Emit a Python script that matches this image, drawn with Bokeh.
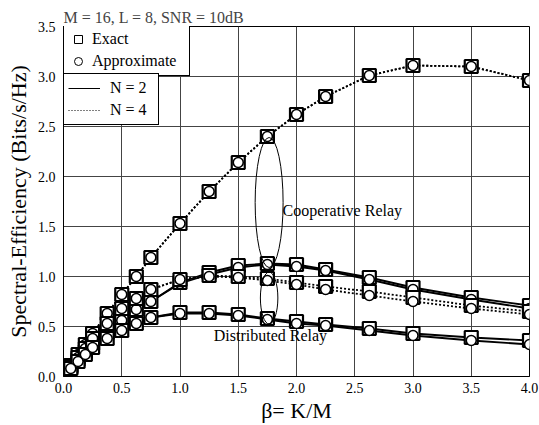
from bokeh.plotting import figure
from bokeh.models import Range1d, FixedTicker, NumeralTickFormatter, Legend, LegendItem
from bokeh.core.properties import value
from bokeh.embed import file_html
from bokeh.resources import INLINE

FONT = "Liberation Serif"

# beta = K/M, M = 16
beta = [1/16, 2/16, 3/16, 4/16, 6/16, 8/16, 10/16, 12/16, 1.0, 1.25, 1.5, 1.75,
        2.0, 2.25, 2.625, 3.0, 3.5, 4.0]

coop_n4_exact = [0.11, 0.22, 0.32, 0.43, 0.63, 0.82, 1.00, 1.19, 1.53, 1.85, 2.14, 2.40,
                 2.62, 2.80, 3.01, 3.11, 3.10, 2.96]
coop_n4_approx = [0.11, 0.22, 0.32, 0.43, 0.63, 0.82, 1.00, 1.19, 1.53, 1.85, 2.14, 2.40,
                  2.62, 2.80, 3.01, 3.11, 3.10, 2.96]

coop_n2_exact = [0.09, 0.17, 0.25, 0.33, 0.44, 0.56, 0.67, 0.75, 0.94, 1.04, 1.11, 1.13,
                 1.12, 1.07, 0.99, 0.89, 0.79, 0.71]
coop_n2_approx = [0.09, 0.17, 0.25, 0.33, 0.44, 0.56, 0.67, 0.75, 0.93, 1.02, 1.09, 1.12,
                  1.10, 1.06, 0.97, 0.87, 0.77, 0.68]

dist_n4_exact = [0.10, 0.19, 0.28, 0.38, 0.53, 0.68, 0.78, 0.87, 0.97, 1.01, 1.00, 0.98,
                 0.94, 0.90, 0.85, 0.79, 0.71, 0.65]
dist_n4_approx = [0.10, 0.19, 0.28, 0.38, 0.53, 0.68, 0.78, 0.87, 0.97, 1.00, 0.99, 0.96,
                  0.92, 0.87, 0.81, 0.75, 0.68, 0.62]

dist_n2_exact = [0.08, 0.15, 0.22, 0.29, 0.38, 0.46, 0.53, 0.59, 0.64, 0.64, 0.62, 0.58,
                 0.55, 0.52, 0.48, 0.43, 0.39, 0.36]
dist_n2_approx = [0.08, 0.15, 0.22, 0.29, 0.38, 0.46, 0.53, 0.59, 0.63, 0.63, 0.61, 0.57,
                  0.53, 0.51, 0.46, 0.41, 0.36, 0.32]

x_ticks = [0.0, 0.5, 1.0, 1.5, 2.0, 2.5, 3.0, 3.5, 4.0]
y_ticks = [0.0, 0.5, 1.0, 1.5, 2.0, 2.5, 3.0, 3.5]

p = figure(width=539, height=425, output_backend="svg", toolbar_location=None,
           x_range=Range1d(0, 4), y_range=Range1d(0, 3.5),
           min_border_left=63, min_border_right=10, min_border_top=26, min_border_bottom=49)

p.title.text = "M = 16, L = 8, SNR = 10dB"
p.title.text_font = FONT
p.title.text_font_size = "16px"
p.title.text_font_style = "normal"
p.title.align = "left"
p.title.offset = 0
p.title.standoff = 2

p.outline_line_color = "black"
p.outline_line_width = 1
p.background_fill_color = "white"
p.border_fill_color = "white"

p.axis.major_label_text_font = FONT
p.axis.major_label_text_font_size = "14px"
p.axis.major_label_text_color = "black"
p.axis.axis_label_text_font = FONT
p.axis.axis_label_text_font_size = "22px"
p.axis.axis_label_text_font_style = "normal"
p.axis.axis_label_text_color = "black"
p.axis.major_tick_in = 0
p.axis.major_tick_out = 0
p.axis.minor_tick_in = 0
p.axis.minor_tick_out = 0
p.axis.axis_line_color = "black"
p.xaxis.formatter = NumeralTickFormatter(format="0.0")
p.yaxis.formatter = NumeralTickFormatter(format="0.0")

p.xaxis.ticker = FixedTicker(ticks=x_ticks)
p.yaxis.ticker = FixedTicker(ticks=y_ticks)
p.xaxis.axis_label = "β= K/M"
p.yaxis.axis_label = "Spectral-Efficiency (Bits/s/Hz)"
p.xaxis.major_label_standoff = 6
p.yaxis.major_label_standoff = 8
p.xaxis.axis_label_standoff = 2
p.yaxis.axis_label_standoff = 4

p.grid.grid_line_color = "#444444"
p.grid.grid_line_width = 1
p.xgrid.ticker = FixedTicker(ticks=x_ticks)
p.ygrid.ticker = FixedTicker(ticks=y_ticks)

series = [
    (coop_n4_exact, coop_n4_approx, "dotted"),
    (coop_n2_exact, coop_n2_approx, "solid"),
    (dist_n4_exact, dist_n4_approx, "dotted"),
    (dist_n2_exact, dist_n2_approx, "solid"),
]

for ex, ap, dash in series:
    dsh = "2 2" if dash == "dotted" else "solid"
    p.line(beta, ex, line_color="black", line_width=1.8, line_dash=dsh)
    p.line(beta, ap, line_color="black", line_width=1.8, line_dash=dsh)

for ex, ap, dash in series:
    p.scatter(beta, ex, marker="square", size=13, line_color="black", line_width=2.2,
              fill_color="white")
    p.scatter(beta, ap, marker="circle", size=10, line_color="black", line_width=1.6,
              fill_color="white")

# ellipses marking the groups
p.ellipse(x=[1.765], y=[1.74], width=[0.24], height=[1.30], fill_color=None,
          line_color="black", line_width=1)
p.ellipse(x=[1.765], y=[0.785], width=[0.15], height=[0.52], fill_color=None,
          line_color="black", line_width=1)

p.text(x=[1.88], y=[1.66], text=["Cooperative Relay"], text_font=value(FONT),
       text_font_size="16px", text_baseline="middle", text_align="left", text_color="black")
p.text(x=[1.29], y=[0.41], text=["Distributed Relay"], text_font=value(FONT),
       text_font_size="16px", text_baseline="middle", text_align="left", text_color="black")

# legend helpers (single point placed outside the visible range)
sq = p.scatter([-10], [-10], marker="square", size=12, line_color="black", line_width=1, fill_color="white")
ci = p.scatter([-10], [-10], marker="circle", size=11, line_color="black", line_width=1, fill_color="white")
l2 = p.line([-10, -9], [-10, -10], line_color="black", line_width=1)
l4 = p.line([-10, -9], [-10, -10], line_color="black", line_width=1, line_dash="1 2")

def style(leg, gw, standoff, lw):
    leg.label_text_font = FONT
    leg.label_text_font_size = "16px"
    leg.label_text_color = "black"
    leg.border_line_color = "black"
    leg.border_line_width = 1
    leg.border_line_alpha = 1
    leg.background_fill_color = "white"
    leg.background_fill_alpha = 1
    leg.padding = 4
    leg.spacing = 2
    leg.margin = 0
    leg.glyph_height = 20
    leg.label_height = 20
    leg.glyph_width = gw
    leg.label_standoff = standoff
    leg.label_width = lw

leg1 = Legend(items=[LegendItem(label="Exact", renderers=[sq]),
                     LegendItem(label="Approximate", renderers=[ci])],
              location=(0, 300))
style(leg1, 20, 4, 93)
leg2 = Legend(items=[LegendItem(label="N = 2", renderers=[l2]),
                     LegendItem(label="N = 4", renderers=[l4])],
              location=(0, 251))
style(leg2, 32, 10, 44)
p.add_layout(leg1, "center")
p.add_layout(leg2, "center")

open("out.html", "w").write(file_html(p, INLINE))
